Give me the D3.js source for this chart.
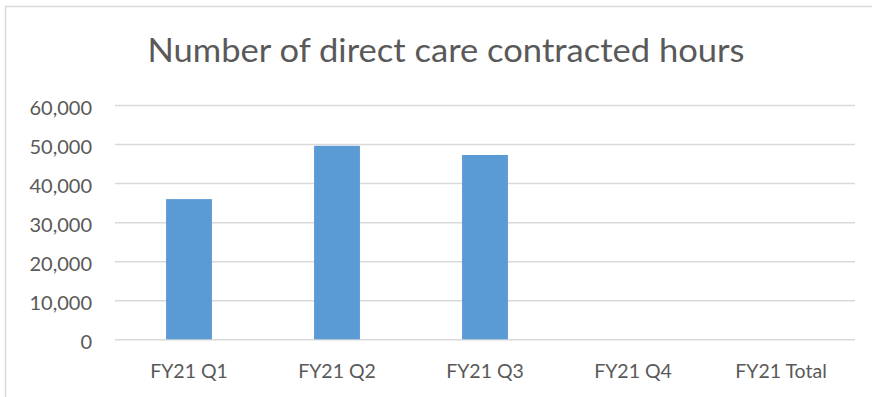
<!DOCTYPE html>
<html>
<head>
<meta charset="utf-8">
<script src="https://cdn.jsdelivr.net/npm/d3@7"></script>
<style>
  html, body { margin: 0; padding: 0; background: #fff; }
  svg { display: block; }
</style>
</head>
<body>
<svg id="chart" width="872" height="397"></svg>
<script>
// Quarterly direct care contracted hours
const categories = ["FY21 Q1", "FY21 Q2", "FY21 Q3", "FY21 Q4", "FY21 Total"];
const hours = [35900, 49550, 47200, null, null];
const yTicks = [0, 10000, 20000, 30000, 40000, 50000, 60000];
const title = "Number of direct care contracted hours";

const W = 872, H = 397;
const margin = { left: 115, right: 17, top: 105, bottom: 57 };
const font = "Lato, 'Open Sans', sans-serif";
const textColor = "#595959";
const gridColor = "#d9d9d9";
const barColor = "#5b9bd5";

const svg = d3.select("#chart");

// chart frame
svg.append("rect")
  .attr("x", 5.5).attr("y", 6.5)
  .attr("width", W + 20).attr("height", H + 20)
  .attr("fill", "#fff")
  .attr("stroke", gridColor).attr("stroke-width", 1.5);

const x = d3.scaleBand()
  .domain(categories)
  .range([margin.left, W - margin.right])
  .paddingInner(0.69)
  .paddingOuter(0.345);

const y = d3.scaleLinear()
  .domain([0, 60000])
  .range([H - margin.bottom - 0.7, margin.top]);

// gridlines and value labels
const yAxis = d3.axisLeft(y)
  .tickValues(yTicks)
  .tickSize(-(W - margin.right - margin.left))
  .tickPadding(23)
  .tickFormat(d3.format(","));

const gy = svg.append("g")
  .attr("transform", `translate(${margin.left},0)`)
  .call(yAxis);
gy.select(".domain").remove();
gy.selectAll(".tick line").attr("stroke", gridColor).attr("stroke-width", 1.5);
gy.selectAll(".tick text")
  .attr("fill", textColor)
  .attr("dy", "0.48em")
  .style("font-family", font)
  .style("font-size", "20px");

// bars
svg.append("g")
  .selectAll("rect")
  .data(categories.map((c, i) => ({ c, v: hours[i] })).filter(d => d.v != null))
  .join("rect")
  .attr("x", d => x(d.c))
  .attr("width", x.bandwidth())
  .attr("y", d => y(d.v))
  .attr("height", d => y(0) - y(d.v))
  .attr("fill", barColor);

// category axis
const xAxis = d3.axisBottom(x).tickSize(0).tickPadding(25);
const gx = svg.append("g")
  .attr("transform", `translate(0,${y(0)})`)
  .call(xAxis);
gx.select(".domain").remove();
gx.selectAll(".tick text")
  .attr("fill", textColor)
  .style("font-family", font)
  .style("font-size", "19.5px");

// title
svg.append("text")
  .attr("x", 446)
  .attr("y", 62)
  .attr("text-anchor", "middle")
  .attr("fill", textColor)
  .attr("textLength", 597)
  .attr("lengthAdjust", "spacingAndGlyphs")
  .style("font-family", font)
  .style("font-size", "33px")
  .text(title);
</script>
</body>
</html>
